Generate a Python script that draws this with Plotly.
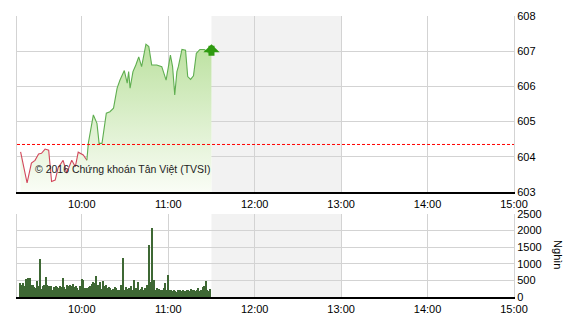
import plotly.graph_objects as go
import pandas as pd

DAY = "2016-01-01 "

# ---- price data (red part, then green part) ----
red_times = ["09:17:30", "09:22:00", "09:25:00", "09:27:30", "09:30:00", "09:32:00", "09:34:30",
             "09:37:00", "09:39:00", "09:41:30", "09:43:30", "09:47:00", "09:49:30", "09:53:00",
             "09:55:30", "09:57:30", "10:01:00", "10:03:30"]
red_prices = [604.14, 603.26, 603.82, 603.90, 604.08, 604.10, 604.22,
              604.19, 603.30, 603.34, 603.68, 603.90, 603.54, 603.90,
              603.72, 604.13, 604.05, 603.90]

green_times = ["10:03:30", "10:04:30", "10:08:00", "10:10:30", "10:12:00", "10:14:00", "10:17:00",
               "10:19:30", "10:22:00", "10:24:30", "10:26:30", "10:29:30", "10:31:30", "10:32:30",
               "10:33:30", "10:35:30", "10:37:30", "10:39:30", "10:41:30", "10:44:30", "10:46:30",
               "10:48:30", "10:52:00", "10:55:30", "10:58:30", "11:01:30", "11:03:00", "11:04:30",
               "11:06:00", "11:07:00", "11:09:30", "11:12:00", "11:13:30", "11:15:30", "11:17:30",
               "11:19:30", "11:22:00", "11:25:00", "11:27:00", "11:28:30", "11:30:00"]
green_prices = [603.90, 604.38, 605.19, 604.95, 604.38, 604.38, 605.24,
                605.28, 605.38, 605.95, 606.18, 606.45, 606.09, 606.42,
                605.95, 606.42, 606.61, 606.84, 606.56, 607.20, 607.13,
                606.61, 606.61, 606.56, 606.18, 606.89, 606.56, 605.76,
                606.42, 606.56, 607.05, 607.03, 606.28, 606.20, 606.30,
                606.94, 607.05, 607.05, 606.99, 606.94, 607.03]

REF_PRICE = 604.35

# ---- volume data (one bar per minute from 09:17) ----
VOL_START = "09:17"
volumes = [420, 370, 420, 340, 550, 340, 570, 570, 370, 370, 300, 270, 470, 340,
           1150,
           240, 320, 370, 600, 370, 320, 300, 320, 220, 300, 320, 290, 270, 320,
           300, 580, 300, 240, 370, 320, 370, 340, 400, 300, 340, 270, 220, 320,
           550, 520, 270, 220, 280, 300, 340, 400, 440, 420,
           640, 370, 240, 440, 240, 470, 320, 370, 270, 300, 270, 220, 240, 300,
           270, 220, 220, 370, 300,
           1170,
           220, 300, 240, 270, 320, 220, 520, 220, 270, 440, 200, 240, 300, 220,
           270, 370, 300,
           1570, 440, 2070, 520,
           220, 270, 120, 240, 200, 220, 260, 420, 220,
           670,
           200, 220, 170, 200, 170, 140, 200, 200, 170, 220, 140, 170, 200, 220,
           170, 240, 200, 220, 170, 200, 270, 170, 200, 300, 320, 470, 200, 170, 240]

price_ticks = [603, 604, 605, 606, 607, 608]
vol_ticks = [0, 500, 1000, 1500, 2000, 2500]
hour_ticks = ["10:00", "11:00", "12:00", "13:00", "14:00", "15:00"]
X_START, X_END = "09:15", "15:00"
BREAK_START, BREAK_END = "11:30", "13:00"

COPYRIGHT = "© 2016 Chứng khoán Tân Việt (TVSI)"
VOL_UNIT = "Nghìn"

# ------------------------------------------------
rt = pd.to_datetime([DAY + t for t in red_times])
gt = pd.to_datetime([DAY + t for t in green_times])
all_t = list(rt[:-1]) + list(gt)
all_p = red_prices[:-1] + green_prices
vt = pd.date_range(DAY + VOL_START, periods=len(volumes), freq="1min")

FONT = "Liberation Sans"
GRID = "#d3d3d3"

fig = go.Figure()

# gradient fill under price
fig.add_trace(go.Scatter(
    x=all_t, y=all_p, mode="lines", line=dict(width=0),
    fill="tozeroy",
    fillgradient=dict(type="vertical", start=603, stop=max(all_p),
                      colorscale=[[0, "rgba(250,253,246,1)"], [1, "rgba(188,225,160,1)"]]),
    hoverinfo="skip", showlegend=False, xaxis="x", yaxis="y"))

fig.add_trace(go.Scatter(x=rt, y=red_prices, mode="lines",
                         line=dict(color="#d2485c", width=1.1),
                         showlegend=False, xaxis="x", yaxis="y"))
fig.add_trace(go.Scatter(x=gt, y=green_prices, mode="lines",
                         line=dict(color="#5fae50", width=1.1),
                         showlegend=False, xaxis="x", yaxis="y"))

# volume bars
fig.add_trace(go.Bar(x=vt, y=volumes, width=60000 * 0.9,
                     marker=dict(color="#3e6834", line=dict(width=0)),
                     showlegend=False, xaxis="x2", yaxis="y2"))

xr = [DAY + X_START, DAY + X_END]
xcommon = dict(type="date", range=xr, tickvals=[DAY + h for h in hour_ticks],
               ticktext=hour_ticks, showgrid=True, gridcolor=GRID, gridwidth=1,
               showline=True, linecolor="black", linewidth=1.5, ticks="",
               ticklabelstandoff=1, automargin=False,
               tickfont=dict(family=FONT, size=11, color="black"), zeroline=False)
ycommon = dict(side="right", showgrid=True, gridcolor=GRID, showline=True,
               linecolor=GRID, mirror=True, ticks="", automargin=False,
               tickfont=dict(family=FONT, size=11, color="black"), zeroline=False)

fig.update_layout(
    width=570, height=320,
    margin=dict(l=17, r=56, t=16, b=23, autoexpand=False),
    paper_bgcolor="white", plot_bgcolor="white",
    xaxis=dict(domain=[0, 1], anchor="y", **xcommon),
    xaxis2=dict(domain=[0, 1], anchor="y2", matches="x", **xcommon),
    yaxis=dict(domain=[0.3737, 1], anchor="x", range=[603, 608],
               tickvals=price_ticks, **ycommon),
    yaxis2=dict(domain=[0, 0.2954], anchor="x2", range=[0, 2500],
                tickvals=vol_ticks, **ycommon),
    bargap=0,
    shapes=[
        dict(type="rect", xref="x", yref="y domain", x0=DAY + BREAK_START, x1=DAY + BREAK_END,
             y0=0, y1=1, fillcolor="#f2f2f2", line=dict(width=0), layer="below"),
        dict(type="rect", xref="x2", yref="y2 domain", x0=DAY + BREAK_START, x1=DAY + BREAK_END,
             y0=0, y1=1, fillcolor="#f2f2f2", line=dict(width=0), layer="below"),
        dict(type="line", xref="x domain", yref="y", x0=0, x1=1, y0=REF_PRICE, y1=REF_PRICE,
             line=dict(color="#ff0000", width=1, dash="3px,2px"), layer="above"),
    ],
    annotations=[
        dict(text=COPYRIGHT, xref="paper", yref="y", x=0.032, y=603.65,
             xanchor="left", yanchor="middle", showarrow=False,
             font=dict(family=FONT, size=10.5, color="#222")),
        dict(text=VOL_UNIT, xref="paper", yref="paper", x=1.088, y=0.15,
             xanchor="center", yanchor="middle", textangle=90, showarrow=False,
             font=dict(family=FONT, size=11, color="black")),
        # up arrow at the last price point
        dict(text="", xref="x", yref="y", x=gt[-1], y=green_prices[-1],
             ax=0, ay=13, yshift=6, showarrow=True, arrowhead=1,
             arrowwidth=6, arrowsize=0.45, arrowcolor="#2f9a10"),
    ],
)

fig.write_html("out.html")
